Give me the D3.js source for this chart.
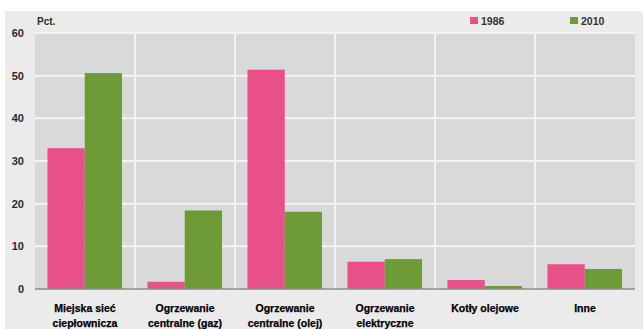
<!DOCTYPE html>
<html>
<head>
<meta charset="utf-8">
<script src="https://cdn.jsdelivr.net/npm/d3@7"></script>
<style>
  body { margin: 0; background: #fff; }
  svg text { font-family: "Liberation Sans Narrow", "Arial Narrow", "Liberation Sans", sans-serif; font-weight: bold; }
</style>
</head>
<body>
<div id="chart"></div>
<script>
// data
var categories = [
  "Miejska sieć|ciepłownicza",
  "Ogrzewanie|centralne (gaz)",
  "Ogrzewanie|centralne (olej)",
  "Ogrzewanie|elektryczne",
  "Kotły olejowe",
  "Inne"
];
var seriesNames = ["1986", "2010"];
var values1986 = [33, 1.7, 51.4, 6.4, 2.1, 5.8];
var values2010 = [50.6, 18.4, 18.1, 7.0, 0.7, 4.7];
var yTicks = [0, 10, 20, 30, 40, 50, 60];
var colors = ["#e94f89", "#6e9a37"];

var W = 643, H = 329;
var margin = { top: 33, right: 8, bottom: 40, left: 35 };

var svg = d3.select("#chart")
  .append("svg")
  .attr("width", W)
  .attr("height", H);

// outer light panel
svg.append("rect")
  .attr("x", 5).attr("y", 11)
  .attr("width", W - 5).attr("height", H - 11)
  .attr("fill", "#ebebeb");

var x0 = d3.scaleBand()
  .domain(categories)
  .range([margin.left, W - margin.right])
  .padding(0);

var x1 = d3.scaleBand()
  .domain(seriesNames)
  .range([x0.bandwidth() * 0.125, x0.bandwidth() * 0.87])
  .padding(0);

var y = d3.scaleLinear()
  .domain([0, 60])
  .range([H - margin.bottom, margin.top]);

// plot area
svg.append("rect")
  .attr("x", margin.left).attr("y", y(60))
  .attr("width", x0.range()[1] - margin.left)
  .attr("height", y(0) - y(60))
  .attr("fill", "#d9d9d9");

// horizontal grid
svg.append("g")
  .selectAll("line")
  .data(yTicks.filter(function (d) { return d > 0; }))
  .enter()
  .append("line")
  .attr("x1", margin.left).attr("x2", x0.range()[1])
  .attr("y1", function (d) { return y(d); })
  .attr("y2", function (d) { return y(d); })
  .attr("stroke", "#f4f4f4")
  .attr("stroke-width", 2);

// vertical separators between categories
svg.append("g")
  .selectAll("line")
  .data(categories.slice(1))
  .enter()
  .append("line")
  .attr("x1", function (d) { return x0(d); })
  .attr("x2", function (d) { return x0(d); })
  .attr("y1", y(60)).attr("y2", y(0))
  .attr("stroke", "#f4f4f4")
  .attr("stroke-width", 2);

// bars
var rows = categories.map(function (c, i) {
  return { cat: c, vals: [values1986[i], values2010[i]] };
});

svg.append("g")
  .selectAll("g")
  .data(rows)
  .enter()
  .append("g")
  .attr("transform", function (d) { return "translate(" + x0(d.cat) + ",0)"; })
  .selectAll("rect")
  .data(function (d) { return d.vals.map(function (v, j) { return { s: seriesNames[j], v: v, j: j }; }); })
  .enter()
  .append("rect")
  .attr("x", function (d) { return x1(d.s); })
  .attr("width", x1.bandwidth())
  .attr("y", function (d) { return y(d.v); })
  .attr("height", function (d) { return y(0) - y(d.v); })
  .attr("fill", function (d) { return colors[d.j]; });

// baseline
svg.append("line")
  .attr("x1", margin.left).attr("x2", x0.range()[1])
  .attr("y1", y(0)).attr("y2", y(0))
  .attr("stroke", "#8c8c8c")
  .attr("stroke-width", 1.5);

// y axis
var yAxis = svg.append("g")
  .attr("transform", "translate(" + (margin.left - 11) + ",0)")
  .call(d3.axisLeft(y).tickValues(yTicks).tickSize(0).tickPadding(0));
yAxis.select(".domain").remove();
yAxis.selectAll("text")
  .attr("font-size", 11)
  .attr("fill", "#2a2a2a");

// x axis labels (two lines)
var xAxis = svg.append("g")
  .attr("transform", "translate(0," + y(0) + ")")
  .call(d3.axisBottom(x0).tickSize(0).tickFormat(""));
xAxis.select(".domain").remove();
xAxis.selectAll(".tick").each(function (d) {
  var t = d3.select(this).append("text")
    .attr("text-anchor", "middle")
    .attr("fill", "#000")
    .attr("stroke", "#000")
    .attr("stroke-width", 0.25)
    .attr("font-size", 10.5);
  d.split("|").forEach(function (line, i) {
    t.append("tspan")
      .attr("x", 0)
      .attr("y", 23 + i * 15)
      .text(line);
  });
});

// unit label
svg.append("text")
  .attr("x", 37).attr("y", 25)
  .attr("font-size", 10)
  .attr("fill", "#2a2a2a")
  .text("Pct.");

// legend
var legendX = [470, 570];
var legend = svg.append("g")
  .selectAll("g")
  .data(seriesNames)
  .enter()
  .append("g")
  .attr("transform", function (d, i) { return "translate(" + legendX[i] + ",17)"; });
legend.append("rect")
  .attr("width", 8).attr("height", 7)
  .attr("fill", function (d, i) { return colors[i]; });
legend.append("text")
  .attr("x", 11).attr("y", 7.5)
  .attr("font-size", 10.5)
  .attr("fill", "#333")
  .text(function (d) { return d; });
</script>
</body>
</html>
